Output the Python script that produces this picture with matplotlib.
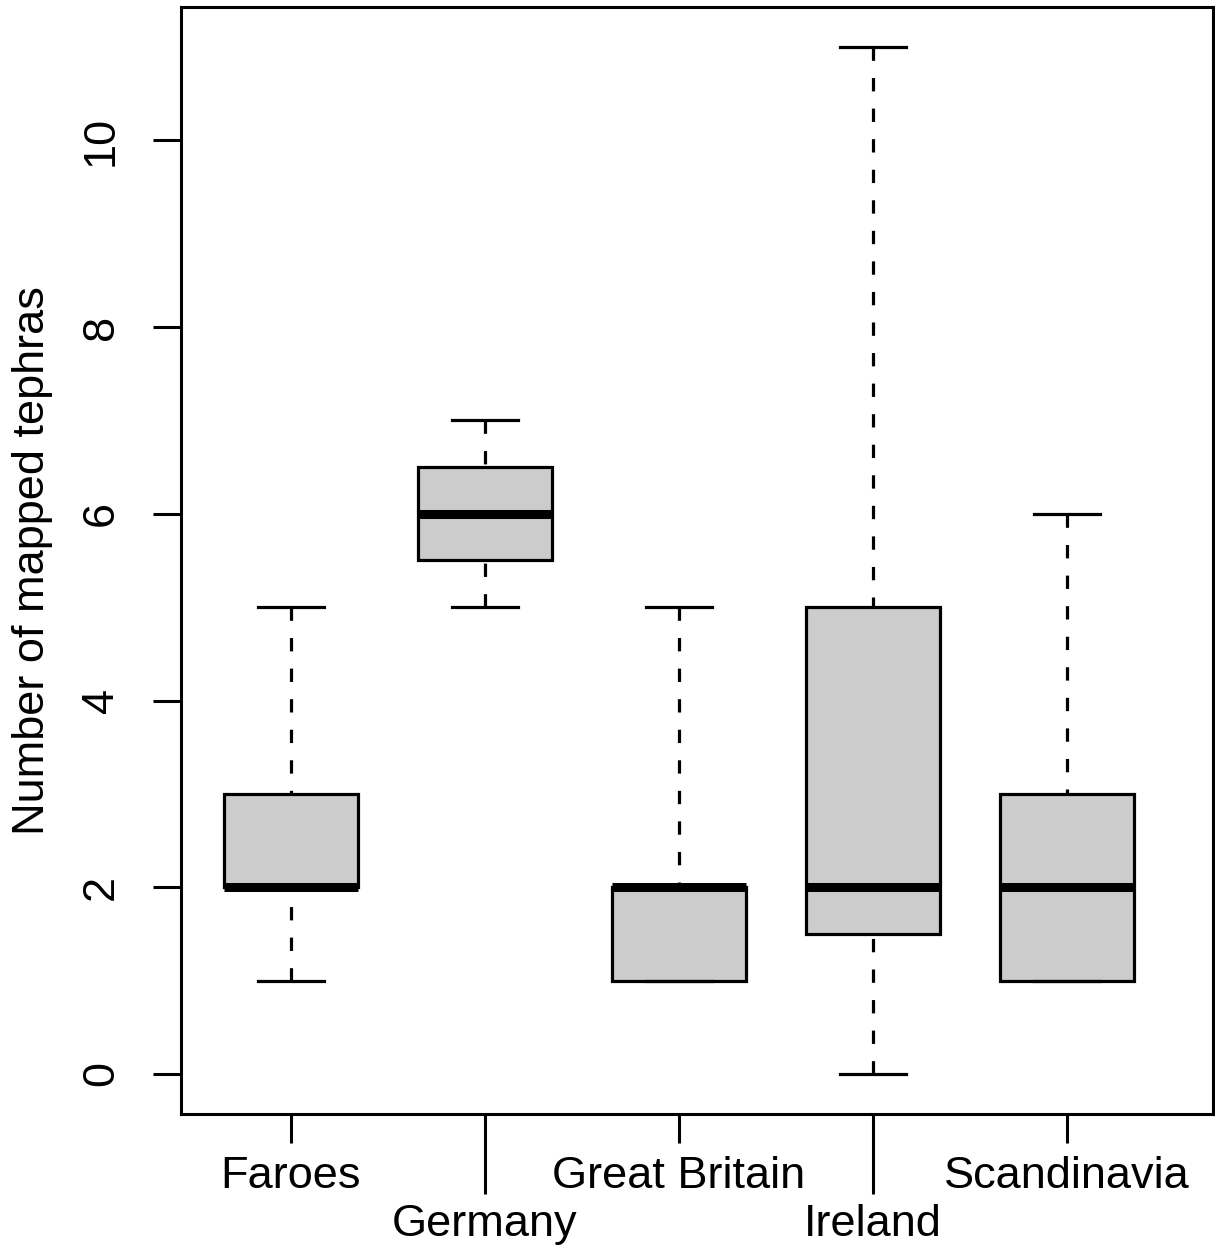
import matplotlib
matplotlib.use("Agg")
import matplotlib.pyplot as plt

plt.rcParams['font.family'] = ['Liberation Sans', 'DejaVu Sans']
plt.rcParams['lines.scale_dashes'] = False

categories = ["Faroes", "Germany", "Great Britain", "Ireland", "Scandinavia"]
whisker_low = [1, 5, 1, 0, 1]
q1 = [2, 5.5, 1, 1.5, 1]
median = [2, 6, 2, 2, 2]
q3 = [3, 6.5, 2, 5, 3]
whisker_high = [5, 7, 5, 11, 6]
y_ticks = [0, 2, 4, 6, 8, 10]
y_label = "Number of mapped tephras"

FS = 32.5
fig = plt.figure(figsize=(12.15, 12.58), dpi=100)
ax = fig.add_axes([181 / 1215, 1 - 1114 / 1258, 1032 / 1215, 1107 / 1258])

stats = []
for i, c in enumerate(categories):
    stats.append(dict(label=c, whislo=whisker_low[i], q1=q1[i], med=median[i],
                      q3=q3[i], whishi=whisker_high[i], fliers=[]))

positions = list(range(1, len(categories) + 1))
res = ax.bxp(stats, positions=positions, widths=0.69, patch_artist=True,
             showfliers=False, capwidths=0.345,
             boxprops=dict(facecolor="#CCCCCC", edgecolor="black", linewidth=2.3),
             medianprops=dict(color="black", linewidth=6.5, solid_capstyle="butt"),
             whiskerprops=dict(color="black", linewidth=2.3, linestyle=(0, (9.6, 12.4))),
             capprops=dict(color="black", linewidth=2.3))

# draw whiskers from the staple end towards the box (as in R)
for ln in res['whiskers']:
    xd, yd = ln.get_data()
    ln.set_data(list(xd)[::-1], list(yd)[::-1])
    ln.set_zorder(1.5)

ax.set_xlim(1 - 110 / 194, 5 + 146 / 194)
ax.set_ylim(-0.43, 11.43)

# staggered x labels: major on odd positions, minor on even positions
major_pos = positions[0::2]
minor_pos = positions[1::2]
ax.set_xticks(major_pos)
ax.set_xticklabels(categories[0::2])
ax.set_xticks(minor_pos, minor=True)
ax.set_xticklabels(categories[1::2], minor=True)
ax.tick_params(axis='x', which='major', length=20.9, width=2.2, pad=9.4, labelsize=FS)
ax.tick_params(axis='x', which='minor', length=57.6, width=2.2, pad=7, labelsize=FS)

ax.set_yticks(y_ticks)
ax.set_yticklabels([str(v) for v in y_ticks])
ax.tick_params(axis='y', length=20.5, width=2.2, pad=22, labelsize=FS)
for t in ax.get_yticklabels():
    t.set_rotation(90)
    t.set_va('center')
    t.set_ha('right')

for s in ax.spines.values():
    s.set_linewidth(2.2)

ax.set_ylabel(y_label, fontsize=FS)
ax.yaxis.set_label_coords((53 - 181) / 1032, 0.5)

fig.savefig("out.png", dpi=100)
